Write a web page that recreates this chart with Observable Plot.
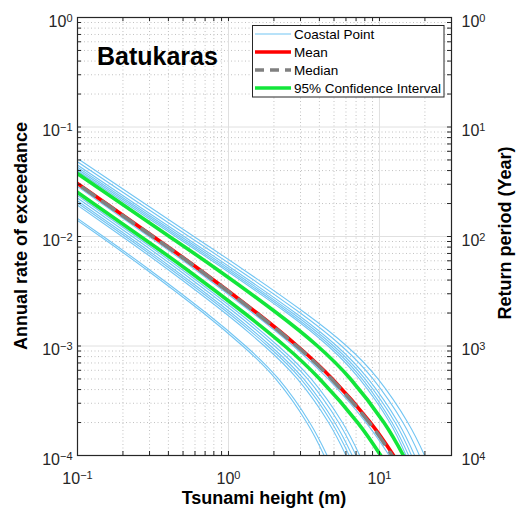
<!DOCTYPE html>
<html><head><meta charset="utf-8">
<script src="https://cdn.jsdelivr.net/npm/d3@7"></script>
<script src="https://cdn.jsdelivr.net/npm/@observablehq/plot@0.6"></script>
<style>
html,body{margin:0;padding:0;background:#fff;}
#chart{width:516px;height:514px;}
</style></head><body><div id="chart"></div>
<script>
// ---- data ----
// annual rates of exceedance (gridline levels) at which each curve's tsunami height (m) was read
const rateLevels = [5e-2, 2e-2, 1e-2, 5e-3, 2e-3, 1e-3, 5e-4, 2e-4, 1e-4];

// Coastal points: height (m) at each rate level (values below 0.1 m lie left of the frame)
const coastalHeights = [
  [0.1035, 0.278, 0.590, 1.251, 3.22, 6.06, 9.78, 15.4, 19.9],
  [0.0958, 0.258, 0.547, 1.159, 2.99, 5.61, 9.06, 14.3, 18.4],
  [0.0891, 0.239, 0.508, 1.078, 2.78, 5.21, 8.42, 13.3, 17.1],
  [0.0848, 0.228, 0.484, 1.026, 2.65, 4.97, 8.02, 12.7, 16.3],
  [0.0813, 0.219, 0.464, 0.983, 2.535, 4.76, 7.68, 12.1, 15.6],
  [0.0781, 0.210, 0.446, 0.945, 2.44, 4.57, 7.38, 11.7, 15.0],
  [0.0562, 0.145, 0.297, 0.601, 1.447, 2.69, 4.57, 8.15, 11.6],
  [0.0461, 0.119, 0.244, 0.4905, 1.174, 2.137, 3.53, 5.68, 7.40],
  [0.0437, 0.1125, 0.2307, 0.4637, 1.109, 2.02, 3.34, 5.37, 7.0],
  [0.0411, 0.106, 0.2174, 0.4369, 1.045, 1.903, 3.148, 5.06, 6.6],
  [0.0393, 0.1012, 0.2076, 0.4172, 0.998, 1.817, 3.01, 4.83, 6.3],
  [0.0374, 0.0963, 0.1976, 0.397, 0.950, 1.729, 2.86, 4.60, 6.0],
  [0.0280, 0.0723, 0.1483, 0.298, 0.7128, 1.298, 2.147, 3.449, 4.5],
  [0.0268, 0.0692, 0.1419, 0.2851, 0.682, 1.242, 2.054, 3.30, 4.3]
];
const meanHeights    = [0.060, 0.1547, 0.3172, 0.6419, 1.544, 2.86, 4.88, 8.71, 12.4];
const medianHeights  = [0.0596, 0.1537, 0.3150, 0.637, 1.530, 2.83, 4.81, 8.55, 12.1];
const ciUpperHeights = [0.0739, 0.1948, 0.406, 0.842, 2.089, 3.886, 6.43, 10.7, 14.4];
const ciLowerHeights = [0.0494, 0.1274, 0.2615, 0.5288, 1.272, 2.36, 4.02, 7.17, 10.2];

// tick values
const xMajorTicks = [0.1, 1, 10];
const yMajorTicks = [1e-4, 1e-3, 1e-2, 1e-1, 1];
const minorMultiples = [2, 3, 4, 5, 6, 7, 8, 9];
const xMinorTicks = [0.1, 1, 10].flatMap(d => minorMultiples.map(k => k * d)).filter(v => v <= 30);
const yMinorTicks = [1e-4, 1e-3, 1e-2, 1e-1].flatMap(d => minorMultiples.map(k => k * d));

const legendLabels = ["Coastal Point", "Mean", "Median", "95% Confidence Interval"];

// ---- build tables ----
const rows = (heights, id) => heights.map((h, j) => ({id, x: h, y: rateLevels[j]}));
const coastal = coastalHeights.flatMap((h, i) => rows(h, i));
const ciRows = [...rows(ciUpperHeights, "up"), ...rows(ciLowerHeights, "lo")];
const meanRows = rows(meanHeights, "mean");
const medianRows = rows(medianHeights, "median");

const W = 516, H = 514, mL = 77, mR = 65, mT = 17, mB = 59;
const fw = W - mL - mR, fh = H - mT - mB, tl = 4;
const FONT = "'Liberation Sans', Arial, Helvetica, sans-serif";
const BLUE = "#72c5f3", GREEN = "#12e63a", RED = "#ff0000", GREY = "#808080";
const DASH = "14,10";

const supFmt = v => "10^" + Math.round(v);

const plot = Plot.plot({
  width: W, height: H,
  marginLeft: mL, marginRight: mR, marginTop: mT, marginBottom: mB,
  style: {fontFamily: FONT, fontSize: "16px", background: "white", color: "#262626"},
  x: {type: "log", domain: [0.1, 30], label: null},
  y: {type: "log", domain: [1e-4, 1], label: null},
  marks: [
    Plot.ruleX(xMinorTicks, {stroke: "#c2c2c2", strokeDasharray: "1,2.5", strokeWidth: 1}),
    Plot.ruleY(yMinorTicks, {stroke: "#c2c2c2", strokeDasharray: "1,2.5", strokeWidth: 1}),
    Plot.ruleX(xMajorTicks, {stroke: "#e0e0e0", strokeWidth: 1}),
    Plot.ruleY(yMajorTicks, {stroke: "#e0e0e0", strokeWidth: 1}),
    Plot.line(coastal, {x: "x", y: "y", z: "id", stroke: BLUE, strokeWidth: 1.1, curve: "natural", clip: true}),
    Plot.line(ciRows, {x: "x", y: "y", z: "id", stroke: GREEN, strokeWidth: 3.6, curve: "natural", clip: true}),
    Plot.line(meanRows, {x: "x", y: "y", stroke: RED, strokeWidth: 3.6, curve: "natural", clip: true}),
    Plot.line(medianRows, {x: "x", y: "y", stroke: GREY, strokeWidth: 3.6, strokeDasharray: DASH, curve: "natural", clip: true}),
    // inward tick marks on all four sides
    Plot.ruleX([...xMajorTicks, ...xMinorTicks], {stroke: "#262626", insetTop: fh - tl}),
    Plot.ruleX([...xMajorTicks, ...xMinorTicks], {stroke: "#262626", insetBottom: fh - tl}),
    Plot.ruleY([...yMajorTicks, ...yMinorTicks], {stroke: "#262626", insetRight: fw - tl}),
    Plot.ruleY([...yMajorTicks, ...yMinorTicks], {stroke: "#262626", insetLeft: fw - tl}),
    Plot.frame({stroke: "#262626", strokeWidth: 1.2}),
    Plot.axisX(xMajorTicks, {anchor: "bottom", tickSize: 0, tickPadding: 17, fontSize: 16, label: null,
      tickFormat: d => supFmt(Math.log10(d))}),
    Plot.axisY(yMajorTicks, {anchor: "left", tickSize: 0, tickPadding: 5, dy: 4, fontSize: 16, label: null,
      tickFormat: d => supFmt(Math.log10(d))}),
    Plot.axisY(yMajorTicks, {anchor: "right", tickSize: 0, tickPadding: 10, dy: 4, fontSize: 16, label: null,
      tickFormat: d => supFmt(-Math.log10(d))})
  ]
});

document.getElementById("chart").appendChild(plot);
const svg = d3.select(plot);

// superscript exponents
svg.selectAll("text").each(function () {
  const t = this.textContent;
  const m = /^10\^(-?\d+)$/.exec(t);
  if (m) {
    const s = d3.select(this);
    s.text("10");
    s.append("tspan").attr("dy", "-0.45em").attr("font-size", "11px").text(m[1].replace("-", "\u2212"));
  }
});

// titles
svg.append("text").attr("x", 97).attr("y", 65).attr("text-anchor", "start").attr("font-size", 25).attr("font-weight", "bold")
  .attr("font-family", FONT).attr("fill", "#000").text("Batukaras");
svg.append("text").attr("x", (mL + W - mR) / 2).attr("y", 504).attr("text-anchor", "middle")
  .attr("font-size", 18).attr("font-weight", "bold").attr("font-family", FONT).attr("fill", "#000")
  .text("Tsunami height (m)");
svg.append("text").attr("transform", "translate(27,236) rotate(-90)").attr("text-anchor", "middle")
  .attr("font-size", 18).attr("font-weight", "bold").attr("font-family", FONT).attr("fill", "#000")
  .text("Annual rate of exceedance");
svg.append("text").attr("transform", "translate(511,233) rotate(-90)").attr("text-anchor", "middle")
  .attr("font-size", 18).attr("font-weight", "bold").attr("font-family", FONT).attr("fill", "#000")
  .text("Return period (Year)");

// legend
const lg = svg.append("g");
lg.append("rect").attr("x", 252.5).attr("y", 25.5).attr("width", 191.5).attr("height", 71.5)
  .attr("fill", "white").attr("stroke", "#262626").attr("stroke-width", 1);
const legendStyles = [
  {stroke: BLUE, w: 1.1, dash: null},
  {stroke: RED, w: 3.6, dash: null},
  {stroke: GREY, w: 3.6, dash: "9,6"},
  {stroke: GREEN, w: 3.6, dash: null}
];
legendLabels.forEach((lab, i) => {
  const y = 34 + i * 18;
  const st = legendStyles[i];
  const ln = lg.append("line").attr("x1", 255).attr("x2", 291).attr("y1", y).attr("y2", y)
    .attr("stroke", st.stroke).attr("stroke-width", st.w);
  if (st.dash) ln.attr("stroke-dasharray", st.dash);
  lg.append("text").attr("x", 294).attr("y", y + 4.6).attr("text-anchor", "start").attr("font-size", 13.5).attr("font-family", FONT)
    .attr("fill", "#000").text(lab);
});
</script>
</body></html>
